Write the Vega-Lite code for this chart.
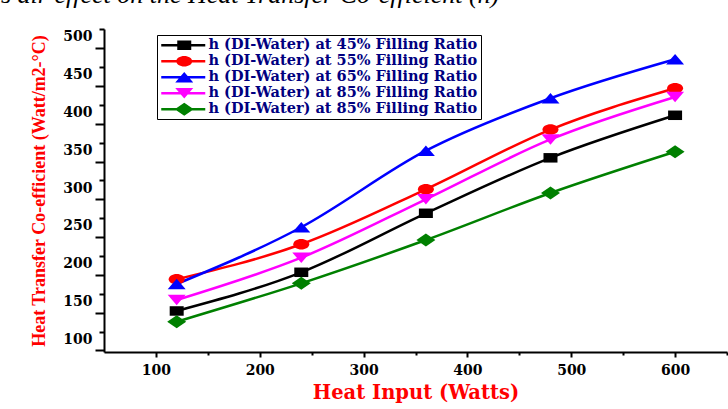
{
  "$schema": "https://vega.github.io/schema/vega-lite/v6.json",
  "width": 623,
  "height": 323,
  "autosize": {"type": "none"},
  "padding": {"left": 104, "top": 29, "right": 1, "bottom": 57},
  "background": "white",
  "config": {"view": {"stroke": null}, "axis": {"grid": false}},
  "title": {
    "text": "s air effect on the Heat Transfer Co-efficient (h)",
    "anchor": "start", "frame": "group", "dx": -103, "dy": 11, "offset": 10,
    "baseline": "alphabetic", "font": "Liberation Serif", "fontSize": 26,
    "fontStyle": "italic", "fontWeight": "normal", "color": "black"
  },
  "data": {
    "values": [
      {"x": 120, "y": 137.3, "s": "s1"}, {"x": 240, "y": 188.5, "s": "s1"}, {"x": 360, "y": 266.6, "s": "s1"}, {"x": 480, "y": 340.0, "s": "s1"}, {"x": 600, "y": 396.3, "s": "s1"},
      {"x": 120, "y": 179.2, "s": "s2"}, {"x": 240, "y": 225.6, "s": "s2"}, {"x": 360, "y": 298.3, "s": "s2"}, {"x": 480, "y": 377.4, "s": "s2"}, {"x": 600, "y": 432.0, "s": "s2"},
      {"x": 120, "y": 173.0, "s": "s3"}, {"x": 240, "y": 248.1, "s": "s3"}, {"x": 360, "y": 349.4, "s": "s3"}, {"x": 480, "y": 418.8, "s": "s3"}, {"x": 600, "y": 470.4, "s": "s3"},
      {"x": 120, "y": 151.8, "s": "s4"}, {"x": 240, "y": 207.8, "s": "s4"}, {"x": 360, "y": 285.1, "s": "s4"}, {"x": 480, "y": 364.3, "s": "s4"}, {"x": 600, "y": 420.5, "s": "s4"},
      {"x": 120, "y": 123.1, "s": "s5"}, {"x": 240, "y": 173.9, "s": "s5"}, {"x": 360, "y": 231.2, "s": "s5"}, {"x": 480, "y": 293.5, "s": "s5"}, {"x": 600, "y": 348.1, "s": "s5"}
    ]
  },
  "resolve": {
    "axis": {"x": "independent", "y": "independent"},
    "scale": {"color": "independent", "shape": "independent"}
  },
  "layer": [
    {
      "mark": {"type": "line", "interpolate": "monotone", "strokeWidth": 2.5, "opacity": 1},
      "encoding": {
        "x": {
          "field": "x", "type": "quantitative",
          "scale": {"domain": [50, 650], "nice": false, "zero": false},
          "axis": {
            "orient": "bottom", "values": [100, 200, 300, 400, 500, 600],
            "title": "Heat Input (Watts)", "titleColor": "#ff0000",
            "titleFont": "DejaVu Serif", "titleFontWeight": "bold", "titleFontSize": 19.5,
            "titlePadding": 6,
            "labelFont": "DejaVu Serif", "labelFontWeight": "bold", "labelFontSize": 14,
            "labelColor": "black", "labelPadding": 6,
            "tickSize": 5, "tickWidth": 2, "tickColor": "black",
            "domainColor": "black", "domainWidth": 2
          }
        },
        "y": {
          "field": "y", "type": "quantitative",
          "scale": {"domain": [83, 510.5], "nice": false, "zero": false},
          "axis": {
            "orient": "left", "values": [100, 150, 200, 250, 300, 350, 400, 450, 500],
            "title": "Heat Transfer Co-efficient (Watt/m2-°C)", "titleColor": "#ff0000",
            "titleFont": "Liberation Serif", "titleFontWeight": "bold", "titleFontSize": 18,
            "titlePadding": 14,
            "labelFont": "DejaVu Serif", "labelFontWeight": "bold", "labelFontSize": 14,
            "labelColor": "black", "labelPadding": 12,
            "ticks": false, "tickSize": 0,
            "domainColor": "black", "domainWidth": 2
          }
        },
        "color": {
          "field": "s", "type": "nominal", "legend": null,
          "scale": {"domain": ["s1", "s2", "s3", "s4", "s5"], "range": ["#000000", "#ff0000", "#0000ff", "#ff00ff", "#008000"]}
        }
      }
    },
    {
      "mark": {"type": "point", "filled": true, "opacity": 1, "size": 100, "strokeWidth": 0},
      "encoding": {
        "x": {
          "field": "x", "type": "quantitative",
          "axis": {
            "orient": "bottom", "values": [150, 250, 350, 450, 550, 650],
            "title": null, "labels": false, "domain": false,
            "tickSize": 3, "tickWidth": 2, "tickColor": "black"
          }
        },
        "y": {
          "field": "y", "type": "quantitative",
          "axis": {
            "orient": "left", "values": [85, 135, 185, 235, 285, 335, 385, 435, 485],
            "title": null, "labels": false, "domain": false,
            "tickSize": 9, "tickWidth": 2, "tickColor": "black"
          }
        },
        "color": {
          "field": "s", "type": "nominal", "legend": null,
          "scale": {"domain": ["s1", "s2", "s3", "s4", "s5"], "range": ["#000000", "#ff0000", "#0000ff", "#ff00ff", "#008000"]}
        },
        "shape": {
          "field": "s", "type": "nominal", "legend": null,
          "scale": {
            "domain": ["s1", "s2", "s3", "s4", "s5"],
            "range": [
              "M-1.4,-0.95H1.4V0.95H-1.4Z",
              "M-1.6,0A1.6,1.05 0 1,1 1.6,0A1.6,1.05 0 1,1 -1.6,0Z",
              "M0,-1.05L1.8,1.05H-1.8Z",
              "M-1.8,-1.05H1.8L0,1.05Z",
              "M0,-1.3L1.9,0L0,1.3L-1.9,0Z"
            ]
          }
        }
      }
    },
    {
      "transform": [{"filter": "datum.x < 0"}],
      "mark": {"type": "point", "filled": true, "opacity": 1, "size": 100},
      "encoding": {
        "x": {"field": "x", "type": "quantitative", "axis": null},
        "y": {
          "field": "y", "type": "quantitative",
          "axis": {
            "orient": "left", "values": [110, 160, 210, 260, 310, 360, 410, 460, 510],
            "title": null, "labels": false, "domain": false,
            "tickSize": 5, "tickWidth": 2, "tickColor": "black"
          }
        },
        "color": {
          "field": "s", "type": "nominal",
          "scale": {"domain": ["s1", "s2", "s3", "s4", "s5"], "range": ["#000000", "#ff0000", "#0000ff", "#ff00ff", "#008000"]},
          "legend": {
            "orient": "none", "legendX": 53, "legendY": 6, "title": null,
            "strokeColor": "black", "fillColor": "white", "padding": 3,
            "labelFont": "DejaVu Serif", "labelFontWeight": "bold", "labelFontSize": 14.5, "labelColor": "#000080",
            "labelLimit": 0,
            "symbolSize": 100, "symbolOffset": 17, "labelOffset": 17, "rowPadding": 1,
            "labelExpr": "datum.label == 's1' ? 'h (DI-Water) at 45% Filling Ratio' : datum.label == 's2' ? 'h (DI-Water) at 55% Filling Ratio' : datum.label == 's3' ? 'h (DI-Water) at 65% Filling Ratio' : 'h (DI-Water) at 85% Filling Ratio'"
          }
        },
        "shape": {
          "field": "s", "type": "nominal",
          "scale": {
            "domain": ["s1", "s2", "s3", "s4", "s5"],
            "range": [
              "M-4.6,-0.24H4.2V0.24H-4.6Z M-1.4,-0.95H1.4V0.95H-1.4Z",
              "M-4.6,-0.24H4.2V0.24H-4.6Z M-1.6,0A1.6,1.05 0 1,1 1.6,0A1.6,1.05 0 1,1 -1.6,0Z",
              "M-4.6,-0.24H4.2V0.24H-4.6Z M0,-1.05L1.8,1.05H-1.8Z",
              "M-4.6,-0.24H4.2V0.24H-4.6Z M-1.8,-1.05H1.8L0,1.05Z",
              "M-4.6,-0.24H4.2V0.24H-4.6Z M0,-1.3L1.9,0L0,1.3L-1.9,0Z"
            ]
          },
          "legend": {
            "orient": "none", "legendX": 53, "legendY": 6, "title": null,
            "strokeColor": "black", "fillColor": "white", "padding": 3,
            "labelFont": "DejaVu Serif", "labelFontWeight": "bold", "labelFontSize": 14.5, "labelColor": "#000080",
            "labelLimit": 0,
            "symbolSize": 100, "symbolOffset": 17, "labelOffset": 17, "rowPadding": 1,
            "labelExpr": "datum.label == 's1' ? 'h (DI-Water) at 45% Filling Ratio' : datum.label == 's2' ? 'h (DI-Water) at 55% Filling Ratio' : datum.label == 's3' ? 'h (DI-Water) at 65% Filling Ratio' : 'h (DI-Water) at 85% Filling Ratio'"
          }
        }
      }
    }
  ]
}
